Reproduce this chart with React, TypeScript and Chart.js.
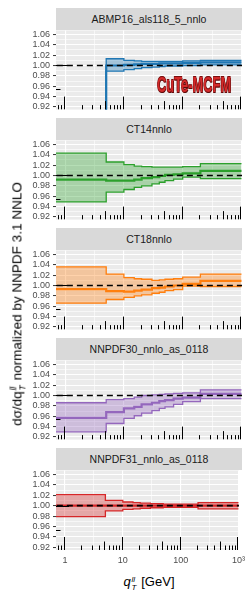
import React, { useEffect, useRef } from 'react';
import { Chart, registerables } from 'chart.js';
Chart.register(...registerables);

// ---------- data ----------
const qtEdges = [0.5, 5, 10, 15, 20, 30, 40, 50, 70, 100, 200, 1000];

const pdfNames = ['ABMP16_als118_5_nnlo', 'CT14nnlo', 'CT18nnlo', 'NNPDF30_nnlo_as_0118', 'NNPDF31_nnlo_as_0118'];
const pdfColors = ['#1f77b4', '#2ca02c', '#ff7f0e', '#9467bd', '#d62728'];

const abmpCentral = [0.6, 1.0, 1.001, 1.002, 1.003, 1.003, 1.004, 1.004, 1.004, 1.005, 1.006];
const abmpUpper = [0.62, 1.013, 1.01, 1.009, 1.008, 1.008, 1.008, 1.008, 1.008, 1.009, 1.01];
const abmpLower = [0.58, 0.989, 0.992, 0.994, 0.996, 0.997, 0.998, 0.999, 0.999, 1.0, 1.001];

const ct14Central = [0.992, 0.99, 0.99, 0.992, 0.995, 0.997, 0.999, 1.001, 1.002, 1.004, 1.009];
const ct14Upper = [1.043, 1.026, 1.021, 1.018, 1.017, 1.016, 1.016, 1.016, 1.016, 1.017, 1.023];
const ct14Lower = [0.949, 0.968, 0.973, 0.977, 0.98, 0.984, 0.987, 0.99, 0.993, 0.997, 0.994];

const ct18Central = [0.993, 0.989, 0.988, 0.99, 0.992, 0.995, 0.996, 0.998, 1.0, 1.003, 1.009];
const ct18Upper = [1.036, 1.022, 1.015, 1.013, 1.012, 1.01, 1.011, 1.012, 1.013, 1.016, 1.022];
const ct18Lower = [0.966, 0.973, 0.977, 0.98, 0.982, 0.985, 0.987, 0.99, 0.992, 0.999, 0.998];

const nn30Central = [0.957, 0.968, 0.975, 0.978, 0.983, 0.986, 0.989, 0.991, 0.994, 0.996, 1.003];
const nn30Upper = [0.986, 0.992, 0.994, 0.997, 1.0, 1.001, 1.002, 1.003, 1.004, 1.005, 1.011];
const nn30Lower = [0.93, 0.946, 0.956, 0.961, 0.966, 0.971, 0.975, 0.978, 0.983, 0.988, 0.994];

const nn31Central = [1.0, 1.0, 1.0, 1.0, 1.0, 1.0, 1.0, 1.0, 1.0, 1.0, 1.0];
const nn31Upper = [1.021, 1.01, 1.007, 1.006, 1.005, 1.004, 1.004, 1.003, 1.003, 1.003, 1.006];
const nn31Lower = [0.979, 0.99, 0.993, 0.994, 0.995, 0.996, 0.996, 0.997, 0.997, 0.997, 0.994];

const centralSets = [abmpCentral, ct14Central, ct18Central, nn30Central, nn31Central];
const upperSets = [abmpUpper, ct14Upper, ct18Upper, nn30Upper, nn31Upper];
const lowerSets = [abmpLower, ct14Lower, ct18Lower, nn30Lower, nn31Lower];

const yTickValues = [0.92, 0.93, 0.94, 0.95, 0.96, 0.97, 0.98, 0.99, 1.0, 1.01, 1.02, 1.03, 1.04, 1.05, 1.06];
const yMajorTicks = [0.92, 0.94, 0.96, 0.98, 1.0, 1.02, 1.04, 1.06];
const xGridValues = [1, 3.1623, 10, 31.623, 100, 316.23, 1000];
const xMajorTicks = [1, 10, 100, 1000];
const xMajorLabels = ['1', '10', '100', '10\u00B3'];
const logMantissas = [1, 2, 3, 4, 5, 6, 7, 8, 9];
const refLineY = 1.0;
const xMin = 0.724, xMax = 1020, yMin = 0.915, yMax = 1.0676;

// ---------- helpers ----------
function toSteps(values: number[]) {
  const pts = values.map((v, i) => ({ x: qtEdges[i], y: v }));
  pts.push({ x: qtEdges[qtEdges.length - 1], y: values[values.length - 1] });
  return pts;
}
function hexA(hex: string, a: number) {
  const n = parseInt(hex.slice(1), 16);
  return `rgba(${(n >> 16) & 255},${(n >> 8) & 255},${n & 255},${a})`;
}
const isMajorY = (v: number) => yMajorTicks.some((m) => Math.abs(m - v) < 1e-6);
const isMajorX = (v: number) => xMajorTicks.some((m) => Math.abs(m - v) / m < 1e-6);

const FONT = "'Liberation Sans', Arial, Helvetica, sans-serif";

const decorPlugin = {
  id: 'decor',
  beforeDraw(chart: any) {
    const { ctx, chartArea: a } = chart;
    ctx.save();
    ctx.fillStyle = '#EBEBEB';
    ctx.fillRect(a.left, a.top, a.right - a.left, a.bottom - a.top);
    ctx.restore();
  },
  afterDatasetsDraw(chart: any) {
    const { ctx, chartArea: a, scales } = chart;
    const xs = scales.x, ys = scales.y;
    ctx.save();
    ctx.beginPath();
    ctx.rect(a.left, a.top, a.right - a.left, a.bottom - a.top);
    ctx.clip();
    ctx.strokeStyle = '#000000';
    ctx.lineWidth = 1;
    const len = (m: number) => (m === 1 ? 13 : m === 5 ? 8.5 : 4.5);
    for (let p = -1; p <= 3; p++) {
      for (const m of logMantissas) {
        const v = m * Math.pow(10, p);
        if (v < xs.min || v > xs.max) continue;
        const px = Math.round(xs.getPixelForValue(v)) - 0.5;
        ctx.beginPath();
        ctx.moveTo(px, a.bottom);
        ctx.lineTo(px, a.bottom - len(m));
        ctx.stroke();
      }
    }
    for (let p = 0; p <= 1; p++) {
      for (const m of logMantissas) {
        const v = Math.log10(m * Math.pow(10, p));
        if (v < ys.min || v > ys.max) continue;
        const py = Math.round(ys.getPixelForValue(v)) + 0.5;
        ctx.beginPath();
        ctx.moveTo(a.left, py);
        ctx.lineTo(a.left + len(m), py);
        ctx.stroke();
      }
    }
    ctx.restore();
  },
};

const PLOT_TOP0 = 30;
const PANEL_STEP = 110;
const PLOT_H = 80;
const PAD = 8;

function Panel({ index }: { index: number }) {
  const ref = useRef<HTMLCanvasElement>(null);
  const last = index === 4;
  const canvasH = last ? PAD + PLOT_H + 22 : PAD + PLOT_H + PAD;
  useEffect(() => {
    const color = pdfColors[index];
    const chart = new Chart(ref.current as HTMLCanvasElement, {
      type: 'line',
      data: {
        datasets: [
          {
            data: [{ x: xMin, y: refLineY }, { x: xMax, y: refLineY }],
            borderColor: '#000000',
            borderWidth: 1.6,
            borderDash: [6, 4],
            pointRadius: 0,
            fill: false,
          },
          {
            data: toSteps(centralSets[index]),
            stepped: true,
            borderColor: color,
            borderWidth: 2.2,
            pointRadius: 0,
            fill: false,
          },
          {
            data: toSteps(upperSets[index]),
            stepped: true,
            borderColor: color,
            borderWidth: 1.3,
            pointRadius: 0,
            backgroundColor: hexA(color, 0.35),
            fill: '+1',
          },
          {
            data: toSteps(lowerSets[index]),
            stepped: true,
            borderColor: color,
            borderWidth: 1.3,
            pointRadius: 0,
            fill: false,
          },
        ],
      },
      options: {
        responsive: false,
        animation: false,
        events: [],
        layout: { padding: { top: PAD, bottom: last ? 0 : PAD, left: 0, right: 8 } },
        plugins: { legend: { display: false }, tooltip: { enabled: false }, title: { display: false } },
        scales: {
          x: {
            type: 'logarithmic',
            min: xMin,
            max: xMax,
            border: { display: false },
            afterBuildTicks: (s: any) => {
              s.ticks = xGridValues.map((v) => ({ value: v }));
            },
            afterFit: (s: any) => {
              s.height = last ? 22 : 0;
            },
            grid: {
              color: '#FFFFFF',
              lineWidth: (c: any) => (c.tick && isMajorX(c.tick.value) ? 1.1 : 0.6),
              drawTicks: false,
            },
            ticks: {
              display: last,
              autoSkip: false,
              maxRotation: 0,
              padding: 5,
              color: '#4D4D4D',
              font: { family: FONT, size: 9 },
              callback: (v: any) => {
                const i = xMajorTicks.findIndex((m) => Math.abs(m - v) / m < 1e-6);
                return i >= 0 ? xMajorLabels[i] : '';
              },
            },
          },
          y: {
            type: 'linear',
            min: yMin,
            max: yMax,
            border: { display: false },
            afterBuildTicks: (s: any) => {
              s.ticks = yTickValues.map((v) => ({ value: v }));
            },
            afterFit: (s: any) => {
              s.width = 56;
            },
            grid: {
              color: '#FFFFFF',
              lineWidth: (c: any) => (c.tick && isMajorY(c.tick.value) ? 1.1 : 0.6),
              tickLength: 3,
              tickWidth: 1,
              tickColor: (c: any) => (c.tick && isMajorY(c.tick.value) ? '#333333' : 'rgba(0,0,0,0)'),
            },
            ticks: {
              autoSkip: false,
              padding: 3,
              color: '#4D4D4D',
              font: { family: FONT, size: 9 },
              callback: (v: any) => (isMajorY(Number(v)) ? Number(v).toFixed(2) : ''),
            },
          },
        },
      },
      plugins: [decorPlugin],
    } as any);
    return () => chart.destroy();
  }, [index]);
  const plotTop = PLOT_TOP0 + PANEL_STEP * index;
  return (
    <>
      <div
        style={{
          position: 'absolute',
          left: 56,
          top: plotTop - 22,
          width: 186,
          height: 22,
          background: '#D9D9D9',
          color: '#1A1A1A',
          fontFamily: FONT,
          fontSize: 10.5,
          lineHeight: '22px',
          textAlign: 'center',
          whiteSpace: 'nowrap',
        }}
      >
        {pdfNames[index]}
      </div>
      <canvas
        ref={ref}
        width={250}
        height={canvasH}
        style={{ position: 'absolute', left: 0, top: plotTop - PAD, width: 250, height: canvasH }}
      />
    </>
  );
}

function Scripts({ sup, sub }: { sup: string; sub: string }) {
  return (
    <span
      style={{
        display: 'inline-flex',
        flexDirection: 'column',
        verticalAlign: '0.55em',
        fontSize: '0.62em',
        lineHeight: 1.0,
        fontStyle: 'italic',
        marginLeft: '0.1em',
        marginRight: '0.15em',
      }}
    >
      <span>{sup}</span>
      <span>{sub}</span>
    </span>
  );
}

export default function App() {
  return (
    <div style={{ position: 'absolute', left: 0, top: 0, width: 250, height: 600, background: '#FFFFFF', overflow: 'hidden' }}>
      {[0, 1, 2, 3, 4].map((i) => (
        <Panel key={i} index={i} />
      ))}
      <div
        style={{
          position: 'absolute',
          left: 157,
          top: 74,
          fontFamily: FONT,
          fontWeight: 'bold',
          fontSize: 22,
          lineHeight: '22px',
          color: '#D42A2A',
          whiteSpace: 'nowrap',
          transform: 'scaleX(0.585)',
          transformOrigin: '0 0',
          textShadow: '1px 1px 0 #5A0A0A, -0.6px -0.6px 0 #7A1010, 0.6px -0.6px 0 #7A1010, -0.6px 0.6px 0 #7A1010',
        }}
      >
        CuTe-MCFM
      </div>
      <div
        style={{
          position: 'absolute',
          left: 18,
          top: 304,
          transform: 'translate(-50%, -50%) rotate(-90deg)',
          fontFamily: FONT,
          fontSize: 13.5,
          color: '#000000',
          whiteSpace: 'nowrap',
        }}
      >
        d{'\u03C3'}/dq<Scripts sup="ll" sub="T" /> normalized by NNPDF 3.1 NNLO
      </div>
      <div
        style={{
          position: 'absolute',
          left: 149,
          top: 583,
          transform: 'translate(-50%, -50%)',
          fontFamily: FONT,
          fontSize: 13,
          color: '#000000',
          whiteSpace: 'nowrap',
        }}
      >
        <i>q</i>
        <Scripts sup="ll" sub="T" /> [GeV]
      </div>
    </div>
  );
}
